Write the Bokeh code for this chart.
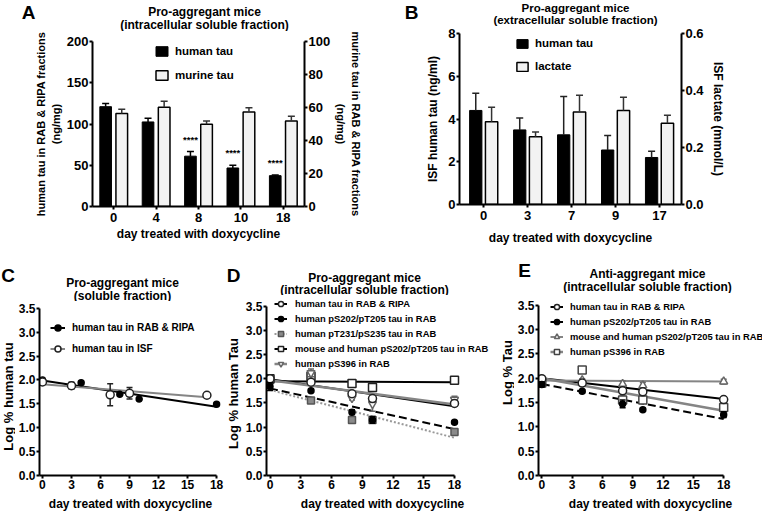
import math
from bokeh.plotting import figure
from bokeh.layouts import column, row
from bokeh.models import (Range1d, LinearAxis, FixedTicker, PrintfTickFormatter,
                          Legend, LegendItem)
from bokeh.core.properties import value
from bokeh.embed import file_html
from bokeh.resources import INLINE

FONT = "Liberation Sans"

# ---------------- data ----------------
# Panel A (bars, mean and SEM)
a_days = ["0", "4", "8", "10", "18"]
a_human = [121, 102.5, 61, 46.7, 37.4]
a_human_sem = [4, 4.5, 5.7, 3.3, 0.8]
a_murine = [56.3, 60.2, 49.8, 57.3, 51.8]
a_murine_sem = [2.7, 3.6, 2.0, 2.5, 2.9]
a_sig = ["", "", "****", "****", "****"]
a_left_ticks = [0, 50, 100, 150, 200]
a_right_ticks = [0, 20, 40, 60, 80, 100]

# Panel B
b_days = ["0", "3", "7", "9", "17"]
b_tau = [4.4, 3.49, 3.26, 2.55, 2.2]
b_tau_sem = [0.8, 0.56, 1.79, 0.68, 0.29]
b_lactate = [0.29, 0.238, 0.325, 0.33, 0.285]
b_lactate_sem = [0.051, 0.016, 0.058, 0.046, 0.028]
b_left_ticks = [0, 2, 4, 6, 8]
b_right_ticks = [0.0, 0.2, 0.4, 0.6]

# Panel C
c_rab_days = [0, 4, 8, 10, 18]
c_rab = [2.0, 1.94, 1.70, 1.60, 1.49]
c_isf_days = [0, 3, 7, 9, 17]
c_isf = [1.96, 1.88, 1.69, 1.72, 1.68]
c_isf_sem = [0.05, 0.07, 0.23, 0.12, 0.05]
c_rab_fit_days = [0, 18]
c_rab_fit = [1.99, 1.44]
c_isf_fit_days = [0, 17]
c_isf_fit = [1.91, 1.64]

# Panel D
d_days = [0, 4, 8, 10, 18]
d_tau = [2.0, 1.93, 1.69, 1.59, 1.49]
d_tau_sem = [0, 0.02, 0.03, 0.06, 0.05]
d_ps202 = [1.84, 1.75, 1.31, 1.15, 1.10]
d_ps202_sem = [0.08, 0, 0.05, 0.07, 0]
d_pt231 = [1.97, 1.55, 1.15, 1.15, 0.90]
d_pt231_sem = [0, 0, 0.05, 0.05, 0.03]
d_mouse = [2.0, 2.05, 1.90, 1.82, 1.97]
d_mouse_sem = [0, 0.06, 0, 0.07, 0]
d_ps396 = [1.97, 2.12, 1.60, 1.48, 1.57]
d_ps396_sem = [0, 0.08, 0.04, 0.15, 0.07]
fit_days = [0, 18]
d_tau_fit = [1.99, 1.43]
d_ps202_fit = [1.80, 0.96]
d_pt231_fit = [1.77, 0.78]
d_mouse_fit = [1.95, 1.93]
d_ps396_fit = [1.97, 1.47]

# Panel E
e_days = [0, 4, 8, 10, 18]
e_tau = [1.99, 1.90, 1.74, 1.72, 1.56]
e_tau_sem = [0, 0, 0.03, 0.04, 0]
e_ps202 = [1.87, 1.73, 1.47, 1.35, 1.25]
e_ps202_sem = [0.05, 0.03, 0.08, 0.03, 0.06]
e_mouse = [1.97, 1.96, 1.88, 1.85, 1.93]
e_mouse_sem = [0, 0.03, 0.06, 0.06, 0.05]
e_ps396 = [1.90, 2.17, 1.55, 1.55, 1.40]
e_ps396_sem = [0.06, 0, 0.08, 0.04, 0.05]
e_tau_fit = [2.00, 1.57]
e_ps202_fit = [1.88, 1.16]
e_mouse_fit = [1.95, 1.93]
e_ps396_fit = [2.00, 1.33]

line_x_ticks = [0, 3, 6, 9, 12, 15, 18]
line_y_ticks = [0, 0.5, 1.0, 1.5, 2.0, 2.5, 3.0, 3.5]

GREY = "#858585"


# ---------------- helpers ----------------
def style_axis(ax, tick_size="13px", label_size="12px"):
    ax.axis_line_width = 2
    ax.axis_line_color = "black"
    ax.major_tick_line_width = 2
    ax.major_tick_line_color = "black"
    ax.major_tick_out = 3
    ax.major_tick_in = 0
    ax.minor_tick_line_color = None
    ax.major_label_text_font = FONT
    ax.major_label_text_font_style = "bold"
    ax.major_label_text_font_size = tick_size
    ax.major_label_text_color = "black"
    ax.major_label_standoff = 1
    ax.axis_label_text_font = FONT
    ax.axis_label_text_font_style = "bold"
    ax.axis_label_text_font_size = label_size
    ax.axis_label_text_color = "black"
    ax.axis_label_standoff = 2


def make_fig(w, h, bl, br, bt, bb, xr, yr):
    p = figure(width=w, height=h, x_range=xr, y_range=yr, title=None,
               output_backend="svg", toolbar_location=None,
               min_border_left=int(round(bl)), min_border_right=int(round(br)),
               min_border_top=int(round(bt)), min_border_bottom=int(round(bb)))
    p.outline_line_color = None
    p.xgrid.visible = False
    p.ygrid.visible = False
    p.background_fill_color = "white"
    p.border_fill_color = "white"
    return p


def text_canvas(x0, y0, w, h):
    # a blank figure whose frame is the whole canvas, in page pixel coordinates
    p = figure(width=w, height=h, x_range=Range1d(x0, x0 + w), y_range=Range1d(y0 + h, y0),
               title=None, output_backend="svg", toolbar_location=None,
               x_axis_location=None, y_axis_location=None,
               min_border_left=0, min_border_right=0, min_border_top=0, min_border_bottom=0)
    p.outline_line_color = None
    p.grid.visible = False
    p.background_fill_color = "white"
    p.border_fill_color = "white"
    return p


def put_text(p, x, y, text, size, angle=0.0):
    p.text(x=[x], y=[y], text=[text], angle=angle, text_font=value(FONT),
           text_font_style="bold", text_font_size=size, text_align="center",
           text_baseline="middle", text_color="black")


def bar_errors(p, xs, tops, sems, color, range_name="default"):
    hi = [t + s for t, s in zip(tops, sems)]
    p.segment(x0=xs, y0=tops, x1=xs, y1=hi, line_color=color, line_width=1.5,
              y_range_name=range_name)
    p.scatter(x=xs, y=hi, marker="dash", size=7, line_color=color, line_width=1.5,
              y_range_name=range_name)


def series(p, xs, ys, sems, marker, size, fill, edge, lw=1.5):
    xe = [x for x, s in zip(xs, sems) if s > 0]
    lo = [y - s for y, s in zip(ys, sems) if s > 0]
    hi = [y + s for y, s in zip(ys, sems) if s > 0]
    if xe:
        p.segment(x0=xe, y0=lo, x1=xe, y1=hi, line_color=edge, line_width=1.5)
        p.scatter(x=xe + xe, y=lo + hi, marker="dash", size=6, line_color=edge,
                  line_width=1.5)
    return p.scatter(x=xs, y=ys, marker=marker, size=size, fill_color=fill,
                     line_color=edge, line_width=lw)


def legend(items, loc, gw, gh, lh, spacing, standoff, size):
    return Legend(items=items, location=loc, glyph_width=gw, glyph_height=gh,
                  label_height=lh, label_width=10, spacing=spacing, padding=0, margin=0,
                  label_standoff=standoff, border_line_color=None,
                  background_fill_alpha=0, label_text_font=FONT,
                  label_text_font_style="bold", label_text_font_size=size,
                  label_text_color="black")


def line_panel(fig_x, fig_y, w, h, fl, fr, ft, fb, x0_img, x18_img, y35_img):
    ppd = (x18_img - x0_img) / 18.0
    xs = -(x0_img - fl) / ppd
    xe = 18 + (fr - x18_img) / ppd
    ppu = (fb - y35_img) / 3.5
    ye = 3.5 + (y35_img - ft) / ppu
    p = make_fig(w, h, fl - fig_x, fig_x + w - fr, ft - fig_y, fig_y + h - fb,
                 Range1d(xs, xe), Range1d(0, ye))
    style_axis(p.xaxis[0], "12px", "12px")
    style_axis(p.yaxis[0], "12px", "12px")
    p.xaxis.ticker = FixedTicker(ticks=line_x_ticks)
    p.yaxis.ticker = FixedTicker(ticks=line_y_ticks)
    p.yaxis.formatter = PrintfTickFormatter(format="%.1f")
    p.xaxis.bounds = (xs, 18)
    p.yaxis.bounds = (0, 3.5)
    p.xaxis.axis_label = "day treated with doxycycline"
    p.xaxis.axis_label_standoff = 5
    return p


def stack(*plots):
    # wrap each plot in its own row so that Bokeh does not align their frames
    return column(*[row(p, spacing=0) for p in plots], spacing=0)


# ================= Panel A =================
hA = text_canvas(8, 8, 387, 31)
put_text(hA, 36, 19.5, "A", "19px")
put_text(hA, 212, 19, "Pro-aggregant mice", "12px")
put_text(hA, 212, 32, "(intracellular soluble fraction)", "12px")

pa = make_fig(387, 216, 92, 83, 10, 41, Range1d(-0.5, 4.5), Range1d(0, 200))
pa.extra_y_ranges = {"right": Range1d(0, 100)}
ra = LinearAxis(y_range_name="right")
pa.add_layout(ra, "right")

a_idx = list(range(len(a_days)))
xa_h = [i - 0.19 for i in a_idx]
xa_m = [i + 0.19 for i in a_idx]
rh = pa.vbar(x=xa_h, top=a_human, width=0.275, fill_color="black", line_color="black", line_width=1)
rm = pa.vbar(x=xa_m, top=a_murine, width=0.275, fill_color="#f2f2f2", line_color="black",
             line_width=1.5, y_range_name="right")
bar_errors(pa, xa_h, a_human, a_human_sem, "black")
bar_errors(pa, xa_m, a_murine, a_murine_sem, "#333333", "right")
pa.text(x=xa_h, y=[h + s + 15 for h, s in zip(a_human, a_human_sem)], text=a_sig,
        text_font=value(FONT), text_font_style="bold", text_font_size="9.5px",
        text_align="center", text_baseline="middle", text_color="black")

style_axis(pa.xaxis[0])
style_axis(pa.yaxis[0], "13px", "11px")
style_axis(ra, "13px", "11px")
pa.xaxis.ticker = FixedTicker(ticks=a_idx)
pa.xaxis.major_label_overrides = {i: d for i, d in zip(a_idx, a_days)}
pa.xaxis.axis_label = "day treated with doxycycline"
pa.xaxis.major_label_standoff = 3
pa.yaxis[0].ticker = FixedTicker(ticks=a_left_ticks)
pa.yaxis[0].axis_label = "human tau in RAB & RIPA fractions\n(ng/mg)"
ra.ticker = FixedTicker(ticks=a_right_ticks)
ra.axis_label = "murine tau in RAB & RIPA fractions\n(ng/mg)"
pa.add_layout(legend([LegendItem(label="human tau", renderers=[rh]),
                      LegendItem(label="murine tau", renderers=[rm])],
                     (62, 124), 15, 12, 14, 10, 6, "11.5px"))

# ================= Panel B =================
hB = text_canvas(395, 8, 375, 26)
put_text(hB, 419, 19.5, "B", "19px")
put_text(hB, 583, 15, "Pro-aggregant mice", "11.5px")
put_text(hB, 583, 27.5, "(extracellular soluble fraction)", "11.5px")

pb = make_fig(375, 221, 72, 81, 7, 41, Range1d(-0.55, 4.5), Range1d(0, 8))
pb.extra_y_ranges = {"right": Range1d(0, 0.6)}
rb = LinearAxis(y_range_name="right")
pb.add_layout(rb, "right")

b_idx = list(range(len(b_days)))
xb_h = [i - 0.18 for i in b_idx]
xb_l = [i + 0.18 for i in b_idx]
bh = pb.vbar(x=xb_h, top=b_tau, width=0.28, fill_color="black", line_color="black", line_width=1)
bl_ = pb.vbar(x=xb_l, top=b_lactate, width=0.28, fill_color="#f2f2f2", line_color="black",
              line_width=1.5, y_range_name="right")
bar_errors(pb, xb_h, b_tau, b_tau_sem, "#222222")
bar_errors(pb, xb_l, b_lactate, b_lactate_sem, "#333333", "right")

for ax in [pb.xaxis[0], pb.yaxis[0], rb]:
    style_axis(ax)
pb.xaxis.ticker = FixedTicker(ticks=b_idx)
pb.xaxis.major_label_overrides = {i: d for i, d in zip(b_idx, b_days)}
pb.xaxis.axis_label = "day treated with doxycycline"
pb.xaxis.major_label_standoff = 3
pb.xaxis.axis_label_standoff = 8
pb.yaxis[0].ticker = FixedTicker(ticks=b_left_ticks)
pb.yaxis[0].axis_label = "ISF human tau (ng/ml)"
pb.yaxis[0].axis_label_standoff = 5
rb.ticker = FixedTicker(ticks=b_right_ticks)
rb.formatter = PrintfTickFormatter(format="%.1f")
rb.axis_label = "ISF lactate (mmol/L)"
rb.axis_label_standoff = 4
pb.add_layout(legend([LegendItem(label="human tau", renderers=[bh]),
                      LegendItem(label="lactate", renderers=[bl_])],
                     (56, 131), 14, 11, 14, 9, 6, "11.5px"))

# ================= Panel C =================
sC = text_canvas(8, 255, 15, 266)
put_text(sC, 15.5, 283, "C", "19px")
put_text(sC, 15.5, 404, "Log % human tau", "13px", math.pi / 2)
hC = text_canvas(23, 255, 209, 54)
put_text(hC, 130, 290, "Pro-aggregant mice", "12px")
put_text(hC, 130, 303, "(soluble fraction)", "12px")

pc = line_panel(23, 309, 209, 212, 44, 229, 310, 488, 47, 224, 316)
lc1 = pc.line(c_rab_fit_days, c_rab_fit, line_color="black", line_width=2)
lc2 = pc.line(c_isf_fit_days, c_isf_fit, line_color=GREY, line_width=2)
sc1 = series(pc, c_rab_days, c_rab, [0] * len(c_rab), "circle", 6, "black", "black")
sc2 = series(pc, c_isf_days, c_isf, c_isf_sem, "circle", 8, "white", "#222222")
pc.add_layout(legend([LegendItem(label="human tau in RAB & RIPA", renderers=[lc1, sc1]),
                      LegendItem(label="human tau in ISF", renderers=[lc2, sc2])],
                     (11, 116), 15, 21, 21, 0, 7, "10px"))

# ================= Panel D =================
sD = text_canvas(232, 255, 18, 266)
put_text(sD, 241, 283, "D", "19px")
put_text(sD, 241, 401, "Log % human Tau", "13px", math.pi / 2)
hD = text_canvas(250, 255, 258, 48)
put_text(hD, 372, 285, "Pro-aggregant mice", "12px")
put_text(hD, 372, 297, "(intracellular soluble fraction)", "12px")

pd = line_panel(250, 303, 258, 218, 274, 506, 304, 488, 277.5, 462, 314)
ld1 = pd.line(fit_days, d_tau_fit, line_color="black", line_width=2)
ld2 = pd.line(fit_days, d_ps202_fit, line_color="black", line_width=2, line_dash="8 4")
ld3 = pd.line(fit_days, d_pt231_fit, line_color="#999999", line_width=2, line_dash="2 2")
ld4 = pd.line(fit_days, d_mouse_fit, line_color="black", line_width=2)
ld5 = pd.line(fit_days, d_ps396_fit, line_color=GREY, line_width=2.5)
sd3 = series(pd, d_days, d_pt231, d_pt231_sem, "square", 7, "#8a8a8a", "#555555")
sd4 = series(pd, d_days, d_mouse, d_mouse_sem, "square", 8, "white", "#222222")
sd5 = series(pd, d_days, d_ps396, d_ps396_sem, "inverted_triangle", 8, "white", "#666666")
sd1 = series(pd, d_days, d_tau, d_tau_sem, "circle", 8, "white", "#222222")
sd2 = series(pd, d_days, d_ps202, d_ps202_sem, "circle", 6, "black", "black")
pd.add_layout(legend([LegendItem(label="human tau in RAB & RIPA", renderers=[ld1, sd1]),
                      LegendItem(label="human pS202/pT205 tau in RAB", renderers=[ld1, sd2]),
                      LegendItem(label="human pT231/pS235 tau in RAB", renderers=[ld3, sd3]),
                      LegendItem(label="mouse and human pS202/pT205 tau in RAB", renderers=[ld4, sd4]),
                      LegendItem(label="human pS396 in RAB", renderers=[ld5, sd5])],
                     (8, 104), 13, 15, 15, 0, 8, "9.4px"))

# ================= Panel E =================
sE = text_canvas(508, 255, 14, 266)
put_text(sE, 515, 380, "Log % Tau", "13px", math.pi / 2)
hE = text_canvas(522, 255, 248, 46)
put_text(hE, 532, 278, "E", "19px")
put_text(hE, 655, 281, "Anti-aggregant mice", "12px")
put_text(hE, 655, 294, "(intracellular soluble fraction)", "12px")

pe = line_panel(522, 301, 248, 220, 545, 770, 302, 488, 548.3, 731, 313)
le1 = pe.line(fit_days, e_tau_fit, line_color="black", line_width=2)
le2 = pe.line(fit_days, e_ps202_fit, line_color="black", line_width=2, line_dash="8 4")
le3 = pe.line(fit_days, e_mouse_fit, line_color=GREY, line_width=2)
le4 = pe.line(fit_days, e_ps396_fit, line_color=GREY, line_width=2.5)
se3 = series(pe, e_days, e_mouse, e_mouse_sem, "triangle", 8, "white", "#666666")
se4 = series(pe, e_days, e_ps396, e_ps396_sem, "square", 8, "white", "#444444")
se1 = series(pe, e_days, e_tau, e_tau_sem, "circle", 8, "white", "#222222")
se2 = series(pe, e_days, e_ps202, e_ps202_sem, "circle", 6, "black", "black")
pe.add_layout(legend([LegendItem(label="human tau in RAB & RIPA", renderers=[le1, se1]),
                      LegendItem(label="human pS202/pT205 tau in RAB", renderers=[le1, se2]),
                      LegendItem(label="mouse and human pS202/pT205 tau in RAB", renderers=[le3, se3]),
                      LegendItem(label="human pS396 in RAB", renderers=[le4, se4])],
                     (12, 116), 13, 15, 15, 0, 7, "9.4px"))

# ================= layout =================
top = row(stack(hA, pa), stack(hB, pb), spacing=0)
bottom = row(row(sC, stack(hC, pc), spacing=0),
             row(sD, stack(hD, pd), spacing=0),
             row(sE, stack(hE, pe), spacing=0), spacing=0)
layout = column(top, bottom, spacing=0)
open("out.html", "w").write(file_html(layout, INLINE))
